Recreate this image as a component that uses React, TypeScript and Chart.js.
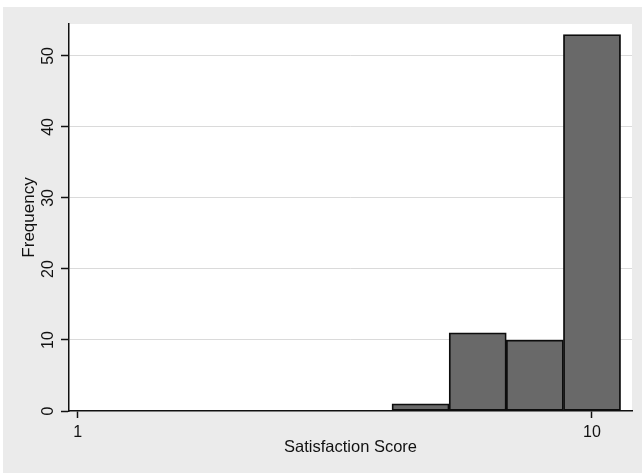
import React, { useEffect, useRef } from 'react';
import { Chart, registerables } from 'chart.js';

Chart.register(...registerables);

const scores = [1, 2, 3, 4, 5, 6, 7, 8, 9, 10];
const frequencies = [0, 0, 0, 0, 0, 0, 1, 11, 10, 53];
const xTickValues = [1, 10];
const yTickValues = [0, 10, 20, 30, 40, 50];
const xTitle = 'Satisfaction Score';
const yTitle = 'Frequency';

const FONT = "'Liberation Sans', Arial, sans-serif";

const plotBg = {
  id: 'plotBg',
  beforeDraw(chart: any) {
    const { ctx, chartArea } = chart;
    ctx.save();
    ctx.fillStyle = '#ffffff';
    ctx.fillRect(chartArea.left, chartArea.top, chartArea.right - chartArea.left, chartArea.bottom - chartArea.top);
    ctx.restore();
  },
};

export default function App() {
  const ref = useRef<HTMLCanvasElement>(null);
  useEffect(() => {
    if (!ref.current) return;
    const chart = new Chart(ref.current, {
      type: 'bar',
      data: {
        datasets: [
          {
            data: scores.map((s, i) => ({ x: s, y: frequencies[i] })),
            backgroundColor: '#696969',
            borderColor: '#0d0d0d',
            borderWidth: 1.8,
            borderSkipped: false,
            barPercentage: 1,
            categoryPercentage: 1,
          },
        ],
      },
      options: {
        animation: false,
        responsive: false,
        maintainAspectRatio: false,
        layout: { padding: { left: 0, top: 17, right: 10, bottom: 0 } },
        plugins: { legend: { display: false }, tooltip: { enabled: false } },
        scales: {
          x: {
            type: 'linear',
            offset: false,
            min: 0.848,
            max: 10.7,
            afterBuildTicks: (scale: any) => {
              scale.ticks = xTickValues.map((v) => ({ value: v }));
            },
            afterFit: (scale: any) => {
              scale.height = 62;
            },
            border: { display: true, color: '#111111', width: 1.5 },
            grid: { offset: false, drawOnChartArea: false, drawTicks: true, tickLength: 7, tickColor: '#111111', tickWidth: 1.5 },
            ticks: { color: '#111111', font: { family: FONT, size: 16 }, padding: 5, maxRotation: 0, autoSkip: false },
            title: { display: true, text: xTitle, color: '#111111', font: { family: FONT, size: 16.5 }, padding: { top: 0, bottom: 16 } },
          },
          y: {
            type: 'linear',
            min: 0,
            max: 54.5,
            afterBuildTicks: (scale: any) => {
              scale.ticks = yTickValues.map((v) => ({ value: v }));
            },
            afterFit: (scale: any) => {
              scale.width = 66;
            },
            border: { display: true, color: '#111111', width: 1.5 },
            grid: {
              drawTicks: true,
              tickLength: 8,
              tickColor: '#111111',
              tickWidth: 1.5,
              color: (c: any) => (c.tick && c.tick.value === 0 ? 'rgba(0,0,0,0)' : '#dadada'),
              lineWidth: 1,
            },
            ticks: {
              color: '#111111',
              font: { family: FONT, size: 16 },
              padding: 4,
              minRotation: 90,
              maxRotation: 90,
              crossAlign: 'center',
              autoSkip: false,
            },
            title: { display: true, text: yTitle, color: '#111111', font: { family: FONT, size: 17 }, padding: { top: 16, bottom: 0 } },
          },
        },
      },
      plugins: [plotBg],
    });
    return () => chart.destroy();
  }, []);

  return (
    <div style={{ position: 'fixed', left: 3, top: 7, width: 639, height: 466, background: '#ebebeb' }}>
      <canvas ref={ref} width={639} height={466} style={{ display: 'block', width: 639, height: 466 }} />
    </div>
  );
}
